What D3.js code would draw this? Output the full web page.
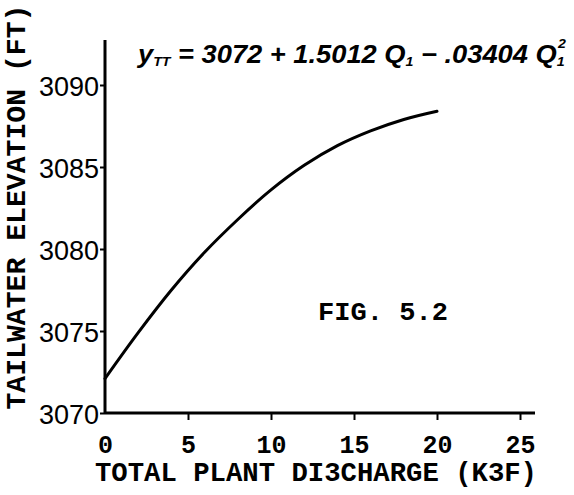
<!DOCTYPE html>
<html><head><meta charset="utf-8">
<script src="https://cdn.jsdelivr.net/npm/d3@7"></script>
<style>body{margin:0;background:#fff}svg{display:block}</style>
</head><body>
<svg id="c" width="574" height="495"></svg>
<script>
const discharge = [0, 2, 4, 6, 8, 10, 12, 14, 16, 18, 20];
const elevation = [3072.1, 3074.9, 3077.5, 3079.8, 3081.8, 3083.6, 3085.1, 3086.3, 3087.2, 3087.9, 3088.4];
const xTicks = [0, 5, 10, 15, 20, 25];
const yTicks = [3070, 3075, 3080, 3085, 3090];
const xTitle = "TOTAL PLANT DI3CHARGE (K3F)";
const yTitle = "TAILWATER ELEVATION (FT)";
const figLabel = "FIG. 5.2";

const svg = d3.select("#c");
const x = d3.scaleLinear().domain([0, 25]).range([105, 520]);
const y = d3.scaleLinear().domain([3070, 3090]).range([413, 85]);
const xMax = x.invert(535), yMax = y.invert(40);
const mono = "'Liberation Mono', 'DejaVu Sans Mono', monospace";

svg.append("line").attr("x1", x(0)).attr("x2", x(xMax)).attr("y1", y(3070)).attr("y2", y(3070))
  .attr("stroke", "#000").attr("stroke-width", 3);
svg.append("line").attr("x1", x(0)).attr("x2", x(0)).attr("y1", y(3070)).attr("y2", y(yMax))
  .attr("stroke", "#000").attr("stroke-width", 3);

const xAxis = d3.axisBottom(x).tickValues(xTicks).tickSize(7).tickSizeOuter(0).tickPadding(22);
const gx = svg.append("g").attr("transform", `translate(0,${y(3070)})`).call(xAxis);
gx.select(".domain").remove();
gx.selectAll(".tick line").attr("stroke", "#000").attr("stroke-width", 2)
  .filter(d => d === 0).remove();
gx.selectAll(".tick text").attr("font-family", mono).attr("font-weight", "bold")
  .attr("font-size", 25).attr("fill", "#000").attr("dy", "0.45em");

const yAxis = d3.axisLeft(y).tickValues(yTicks).tickSize(5).tickSizeOuter(0).tickPadding(1).tickFormat(d3.format("d"));
const gy = svg.append("g").attr("transform", `translate(${x(0)},0)`).call(yAxis);
gy.select(".domain").remove();
gy.selectAll(".tick line").attr("stroke", "#000").attr("stroke-width", 2);
gy.selectAll(".tick text").attr("font-family", "'Liberation Sans', Arial, sans-serif")
  .attr("font-size", 27).attr("fill", "#000").attr("dy", "0.4em");

const line = d3.line().x((d, i) => x(discharge[i])).y(d => y(d)).curve(d3.curveCatmullRom);
svg.append("path").attr("d", line(elevation)).attr("fill", "none")
  .attr("stroke", "#000").attr("stroke-width", 3).attr("stroke-linecap", "round");

svg.append("text").attr("x", 316).attr("y", 481).attr("text-anchor", "middle")
  .attr("font-family", mono).attr("font-weight", "bold").attr("font-size", 27)
  .attr("textLength", 442).attr("lengthAdjust", "spacingAndGlyphs").text(xTitle);
svg.append("text").attr("transform", "translate(25,207) rotate(-90)").attr("text-anchor", "middle")
  .attr("font-family", mono).attr("font-weight", "bold").attr("font-size", 27)
  .attr("textLength", 405).attr("lengthAdjust", "spacingAndGlyphs").text(yTitle);
svg.append("text").attr("x", 318).attr("y", 320)
  .attr("font-family", mono).attr("font-weight", "bold").attr("font-size", 25)
  .attr("textLength", 130).attr("lengthAdjust", "spacingAndGlyphs").text(figLabel);

const eq = svg.append("text").attr("x", 138).attr("y", 63)
  .attr("font-family", "'Liberation Sans', Arial, sans-serif").attr("font-style", "italic")
  .attr("font-weight", "bold")
  .attr("font-size", 25).attr("textLength", 428).attr("lengthAdjust", "spacingAndGlyphs");
eq.append("tspan").text("y");
eq.append("tspan").attr("font-size", 13).attr("dy", 3).text("TT");
eq.append("tspan").attr("dy", -3).text(" = 3072 + 1.5012 Q");
eq.append("tspan").attr("font-size", 13).attr("dy", 3).text("1");
eq.append("tspan").attr("dy", -3).text(" \u2212 .03404 Q");
eq.append("tspan").attr("font-size", 13).attr("dy", 3).text("1");
eq.append("tspan").attr("font-size", 13).attr("dx", -6).attr("dy", -18).text("2");
</script>
</body></html>
